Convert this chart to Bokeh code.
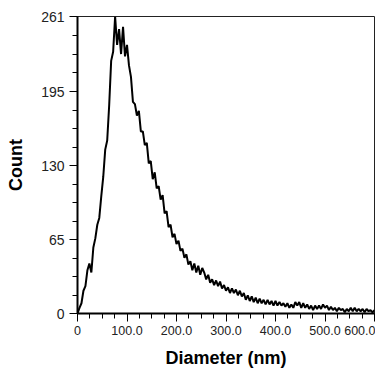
from bokeh.plotting import figure
from bokeh.models import FixedTicker, Range1d
from bokeh.embed import file_html
from bokeh.resources import INLINE

# Diameter bins (nm) and counts
diameter = list(range(0, 601, 4))
counts = [
    0, 5, 9, 20, 24, 38, 44, 36, 58, 66, 78, 84, 103, 120, 144, 152, 183, 222, 230, 261,
    236, 250, 228, 252, 226, 236, 218, 208, 186, 184, 174, 178, 160, 160, 148, 150, 132, 134, 118, 124,
    110, 112, 100, 104, 88, 90, 76, 78, 67, 70, 61, 64, 55, 57, 49, 52, 43, 46, 38, 44,
    36, 42, 34, 40, 36, 30, 34, 27, 30, 25, 29, 24, 28, 22, 25, 20, 23, 18, 22, 18,
    21, 16, 20, 15, 18, 12, 16, 11, 15, 10, 14, 9, 13, 9, 12, 8, 12, 8, 11, 7,
    11, 7, 10, 7, 9, 6, 9, 5, 8, 5, 10, 7, 10, 5, 9, 5, 8, 4, 7, 3,
    7, 4, 7, 4, 8, 5, 7, 3, 6, 3, 5, 2, 5, 3, 4, 1, 4, 2, 5, 2,
    5, 2, 4, 2, 4, 1, 4, 2, 3, 1, 3,
]

x_ticks = [0, 100, 200, 300, 400, 500, 600]
x_tick_labels = ["0", "100.0", "200.0", "300.0", "400.0", "500.0", "600.0"]
x_minor = [v for v in range(0, 601, 25)]
y_ticks = [0, 65, 130, 195, 261]
y_tick_labels = ["0", "65", "130", "195", "261"]
y_minor = [0, 16.25, 32.5, 48.75, 65, 81.25, 97.5, 113.75, 130, 146.25, 162.5, 178.75,
           195, 211.5, 228, 244.5, 261]

p = figure(width=375, height=385, output_backend="svg", toolbar_location=None,
           x_range=Range1d(0, 600), y_range=Range1d(0, 261),
           min_border_left=77, min_border_right=1, min_border_top=16, min_border_bottom=72)
p.background_fill_color = "white"
p.border_fill_color = "white"
p.outline_line_color = "#222222"
p.outline_line_width = 1
p.xgrid.visible = False
p.ygrid.visible = False

p.line(diameter, counts, line_color="black", line_width=2)

for ax, ticks, minor, labels, fs in ((p.xaxis[0], x_ticks, x_minor, x_tick_labels, "12.5px"),
                                     (p.yaxis[0], y_ticks, y_minor, y_tick_labels, "14px")):
    ax.ticker = FixedTicker(ticks=ticks, minor_ticks=minor)
    ax.major_label_overrides = {t: l for t, l in zip(ticks, labels)}
    ax.axis_line_width = 2
    ax.axis_line_color = "black"
    ax.major_tick_line_color = "black"
    ax.minor_tick_line_color = "black"
    ax.major_tick_in = 0
    ax.major_tick_out = 8
    ax.minor_tick_in = 0
    ax.minor_tick_out = 5
    ax.major_label_text_font = "Liberation Sans"
    ax.major_label_text_font_size = fs
    ax.major_label_text_color = "#222222"
    ax.axis_label_text_font = "Liberation Sans"
    ax.axis_label_text_font_size = "18px"
    ax.axis_label_text_font_style = "bold"
    ax.axis_label_text_color = "black"

p.xaxis.axis_label = "Diameter (nm)"
p.yaxis.axis_label = "Count"
p.xaxis.major_label_standoff = 4
p.yaxis.major_label_standoff = 5
p.xaxis.axis_label_standoff = 10
p.yaxis.axis_label_standoff = 12

open("out.html", "w").write(file_html(p, INLINE))
